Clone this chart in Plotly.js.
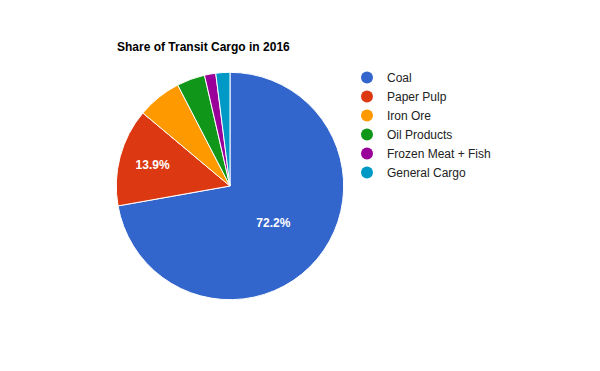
<!DOCTYPE html>
<html>
<head>
<meta charset="utf-8">
<script src="https://cdn.plot.ly/plotly-3.0.1.min.js"></script>
<style>html,body{margin:0;padding:0;background:#fff;}#chart{width:600px;height:371px;}</style>
</head>
<body>
<div id="chart"></div>
<script>
var categories = ["Coal", "Paper Pulp", "Iron Ore", "Oil Products", "Frozen Meat + Fish", "General Cargo"];
var shares = [72.2, 13.9, 6.3, 4.0, 1.6, 2.0];
var sliceLabels = ["72.2%", "13.9%", "", "", "", ""];
var colors = ["#3366cc", "#dc3912", "#ff9900", "#109618", "#990099", "#0099c6"];

var FONT = "Arial, 'Liberation Sans', sans-serif";

var traces = [{
  type: "pie",
  labels: categories,
  values: shares,
  text: sliceLabels,
  textinfo: "text",
  textposition: "inside",
  insidetextorientation: "horizontal",
  insidetextfont: {family: FONT, size: 12, color: "#ffffff", weight: "bold"},
  sort: false,
  direction: "clockwise",
  rotation: 0,
  marker: {colors: colors, line: {color: "#ffffff", width: 1}},
  showlegend: false,
  hoverinfo: "label+percent",
  domain: {x: [0.1938, 0.5728], y: [0.1922, 0.8051]}
}];

categories.forEach(function (c, i) {
  traces.push({
    type: "scatter",
    mode: "markers",
    x: [null],
    y: [null],
    name: c,
    marker: {symbol: "circle", size: 12, color: colors[i]},
    showlegend: true,
    hoverinfo: "skip"
  });
});

var layout = {
  width: 600,
  height: 371,
  margin: {l: 0, r: 0, t: 0, b: 0},
  paper_bgcolor: "#ffffff",
  plot_bgcolor: "#ffffff",
  font: {family: FONT, size: 12, color: "#222222"},
  title: {
    text: "Share of Transit Cargo in 2016",
    font: {family: FONT, size: 12, color: "#000000", weight: "bold"},
    x: 117 / 600,
    xanchor: "left",
    y: 1 - 47 / 371,
    yanchor: "middle"
  },
  xaxis: {visible: false, domain: [0.95, 1]},
  yaxis: {visible: false, domain: [0.95, 1]},
  showlegend: true,
  legend: {
    x: 347 / 600,
    xanchor: "left",
    y: 1 - 63 / 371,
    yanchor: "top",
    font: {family: FONT, size: 12, color: "#222222"},
    bgcolor: "rgba(0,0,0,0)",
    borderwidth: 0,
    traceorder: "normal"
  }
};

Plotly.newPlot("chart", traces, layout, {displayModeBar: false, staticPlot: true});
</script>
</body>
</html>
